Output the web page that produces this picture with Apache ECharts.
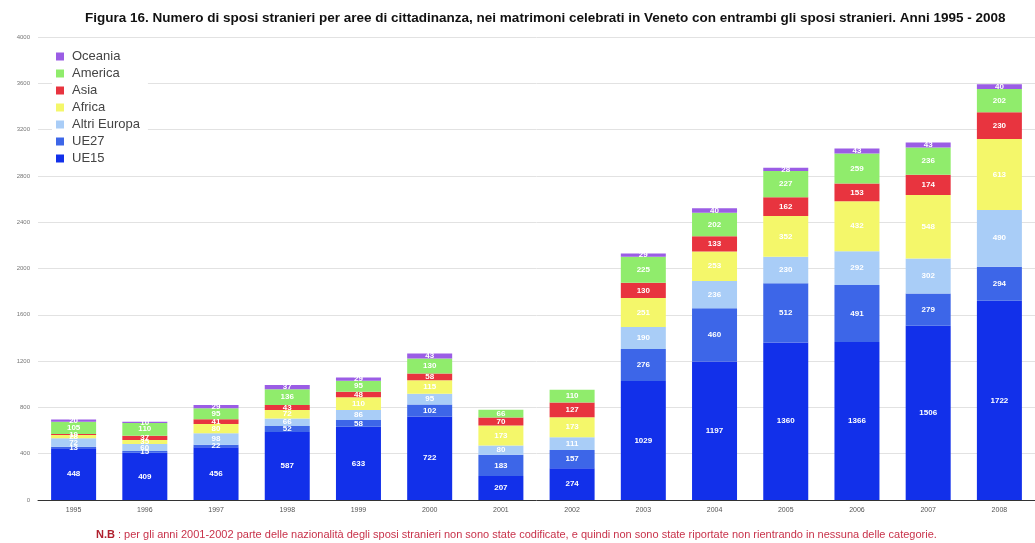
<!DOCTYPE html>
<html>
<head>
<meta charset="utf-8">
<script src="https://cdn.jsdelivr.net/npm/echarts@6/dist/echarts.min.js"></script>
<style>html,body{margin:0;padding:0;background:#fff}#c{width:1035px;height:543px}</style>
</head>
<body>
<div id="c"></div>
<script>
const years = ['1995','1996','1997','1998','1999','2000','2001','2002','2003','2004','2005','2006','2007','2008'];
const UE15 = [448,409,456,587,633,722,207,274,1029,1197,1360,1366,1506,1722];
const UE27 = [13,15,22,52,58,102,183,157,276,460,512,491,279,294];
const altriEuropa = [72,60,98,66,86,95,80,111,190,236,230,292,302,490];
const africa = [28,35,80,72,110,115,173,173,251,253,352,432,548,613];
const asia = [10,37,41,43,48,58,70,127,130,133,162,153,174,230];
const america = [105,110,95,136,95,130,66,110,225,202,227,259,236,202];
const oceania = [20,10,29,37,29,43,0,0,29,40,28,43,43,40];
const yMin = 0, yMax = 4000, yStep = 400;

const titleText = 'Figura 16. Numero di sposi stranieri per aree di cittadinanza, nei matrimoni celebrati in Veneto con entrambi gli sposi stranieri. Anni 1995 - 2008';
const noteText = 'per gli anni 2001-2002 parte delle nazionalità degli sposi stranieri non sono state codificate, e quindi non sono state riportate non rientrando in nessuna delle categorie.';

const seriesDefs = [
  {name:'UE15', data:UE15, color:'#1230ea'},
  {name:'UE27', data:UE27, color:'#3d66e8'},
  {name:'Altri Europa', data:altriEuropa, color:'#a9cdf7'},
  {name:'Africa', data:africa, color:'#f4f76a'},
  {name:'Asia', data:asia, color:'#e8343f'},
  {name:'America', data:america, color:'#90ec6c'},
  {name:'Oceania', data:oceania, color:'#9b5de5'}
];

const chart = echarts.init(document.getElementById('c'));
chart.setOption({
  animation:false,
  backgroundColor:'#fff',
  textStyle:{fontFamily:'Liberation Sans, Arial, sans-serif'},
  title:[
    {text:titleText, left:80, top:6,
     textStyle:{fontSize:13.5, fontWeight:'bold', color:'#111'}},
    {text:'{b|N.B} : ' + noteText, left:96, top:528, padding:0,
     textStyle:{fontSize:11, fontWeight:'normal', color:'#c8324a', lineHeight:13,
       rich:{b:{fontSize:11, fontWeight:'bold', color:'#b0202e', lineHeight:13}}}}
  ],
  legend:{
    orient:'vertical', left:52, top:48,
    data:['Oceania','America','Asia','Africa','Altri Europa','UE27','UE15'],
    itemWidth:8, itemHeight:8, itemGap:4,
    icon:'rect',
    backgroundColor:'#fff', padding:[2,8,2,4],
    textStyle:{fontSize:13, color:'#444', lineHeight:12, padding:[0,0,0,3]}
  },
  grid:{left:38, top:37, bottom:43, width:1011, containLabel:false},
  xAxis:{
    type:'category', data:years,
    axisLine:{lineStyle:{color:'#333', width:1}},
    axisTick:{show:false},
    axisLabel:{fontSize:7, color:'#555', margin:7}
  },
  yAxis:{
    type:'value', min:yMin, max:yMax, interval:yStep,
    axisLine:{show:false}, axisTick:{show:false},
    axisLabel:{fontSize:6, color:'#777', margin:8, formatter:v => String(v)},
    splitLine:{lineStyle:{color:'#e2e2e2', width:1}}
  },
  series: seriesDefs.map(s => ({
    name:s.name, type:'bar', stack:'tot', data:s.data,
    barWidth:45,
    itemStyle:{color:s.color},
    label:{show:true, position:'inside', fontSize:8, fontWeight:'bold', color:'#fff',
      formatter:p => p.value > 0 ? p.value : ''}
  }))
});
</script>
</body>
</html>
